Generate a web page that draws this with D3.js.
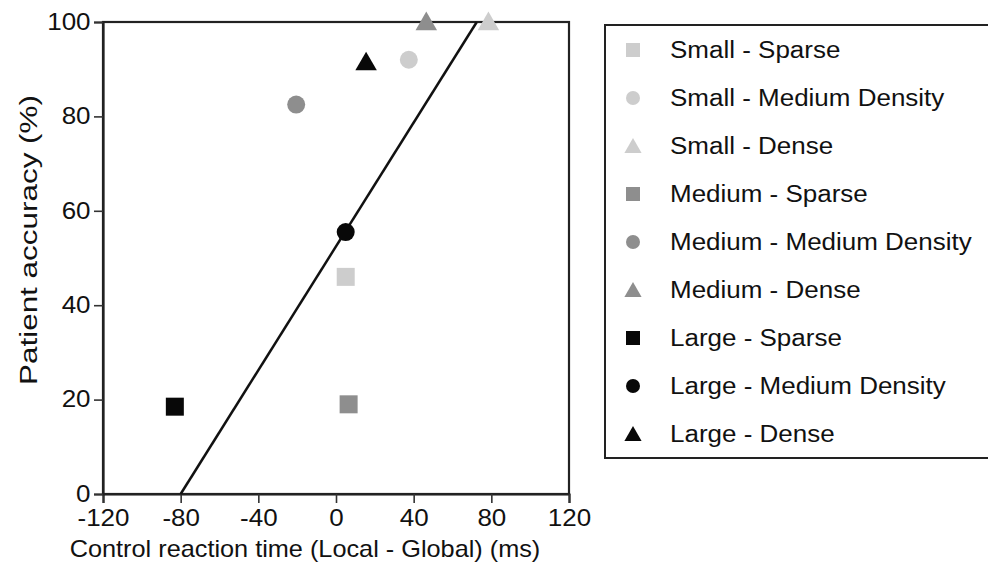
<!DOCTYPE html>
<html><head><meta charset="utf-8">
<script src="https://cdn.jsdelivr.net/npm/d3@7/dist/d3.min.js"></script>
<style>body{margin:0;background:#fff}svg{display:block}text{font-family:"Liberation Sans",Arial,Helvetica,sans-serif;fill:#111}</style>
</head><body><svg id="c" width="988" height="567"></svg>
<script>
const seriesNames = ["Small - Sparse","Small - Medium Density","Small - Dense","Medium - Sparse","Medium - Medium Density","Medium - Dense","Large - Sparse","Large - Medium Density","Large - Dense"];
const seriesX = [5, 37.5, 78.5, 6.5, -20.5, 46.5, -83, 5, 15.5];
const seriesY = [46, 92, 100, 19, 82.5, 100, 18.5, 55.5, 91.5];
const seriesSize = ["Small","Small","Small","Medium","Medium","Medium","Large","Large","Large"];
const seriesShape = ["square","circle","triangle","square","circle","triangle","square","circle","triangle"];
const fitX = [-80, 72.5];
const fitY = [0, 100];
const xTicks = [-120,-80,-40,0,40,80,120];
const yTicks = [0,20,40,60,80,100];

const colorOf = {Small:"#cdcdcd", Medium:"#8e8e8e", Large:"#080808"};
const svg = d3.select("#c");
const x = d3.scaleLinear().domain([-120,120]).range([103,569]);
const y = d3.scaleLinear().domain([0,100]).range([494,22]);
const fmt = d => String(d).replace("\u2212","-");
const SX = 1.13;

svg.append("rect").attr("x",x(-120)).attr("y",y(100)).attr("width",x(120)-x(-120)).attr("height",y(0)-y(100))
  .attr("fill","none").attr("stroke","#222").attr("stroke-width",2.2);

const xa = svg.append("g").attr("transform",`translate(0,${y(0)})`)
  .call(d3.axisBottom(x).tickValues(xTicks).tickSize(9).tickPadding(7).tickFormat(fmt));
const ya = svg.append("g").attr("transform",`translate(${x(-120)},0)`)
  .call(d3.axisLeft(y).tickValues(yTicks).tickSize(9).tickPadding(2).tickFormat(fmt));
[xa,ya].forEach(a=>{a.select(".domain").attr("stroke","#222").attr("stroke-width",2.2);
  a.selectAll(".tick line").attr("stroke","#333").attr("stroke-width",1.6);
  a.selectAll(".tick text").attr("font-size",23).attr("fill","#111").attr("transform",`scale(${SX},1)`);});

svg.append("text").attr("transform",`translate(305,557) scale(1.1,1)`).attr("text-anchor","middle")
  .attr("font-size",23).text("Control reaction time (Local - Global) (ms)");
svg.append("text").attr("x",0).attr("y",0).attr("transform",`translate(37,240) rotate(-90)`).attr("text-anchor","middle")
  .attr("font-size",23).attr("textLength",290).attr("lengthAdjust","spacingAndGlyphs").text("Patient accuracy (%)");

svg.append("line").attr("x1",x(fitX[0])).attr("y1",y(fitY[0])).attr("x2",x(fitX[1])).attr("y2",y(fitY[1]))
  .attr("stroke","#111").attr("stroke-width",2.5);

function symbolFor(shape, s){
  if(shape==="square") return d3.symbol(d3.symbolSquare, s*s)();
  if(shape==="circle") return d3.symbol(d3.symbolCircle, Math.PI*(s/2)*(s/2))();
  return d3.symbol(d3.symbolTriangle, s*s*0.5)();
}
const pts = seriesNames.map((n,i)=>({n, x:seriesX[i], y:seriesY[i], c:colorOf[seriesSize[i]], sh:seriesShape[i]}));
svg.append("g").selectAll("path").data(pts).join("path")
  .attr("transform",d=>`translate(${x(d.x)},${y(d.y) + (d.sh==="triangle"?2:0)})`)
  .attr("d",d=>symbolFor(d.sh, d.sh==="triangle"?20:18)).attr("fill",d=>d.c);

svg.append("rect").attr("x",605).attr("y",25).attr("width",400).attr("height",433)
  .attr("fill","none").attr("stroke","#222").attr("stroke-width",2);
const lg = svg.append("g").selectAll("g").data(pts).join("g")
  .attr("transform",(d,i)=>`translate(0,${50+i*48})`);
lg.append("path").attr("transform",d=>`translate(633,${d.sh==="triangle"?2:0})`)
  .attr("d",d=>symbolFor(d.sh, d.sh==="triangle"?16:14)).attr("fill",d=>d.c);
lg.append("text").attr("transform",`translate(670,8) scale(${SX},1)`).attr("font-size",23).text(d=>d.n);
</script></body></html>
